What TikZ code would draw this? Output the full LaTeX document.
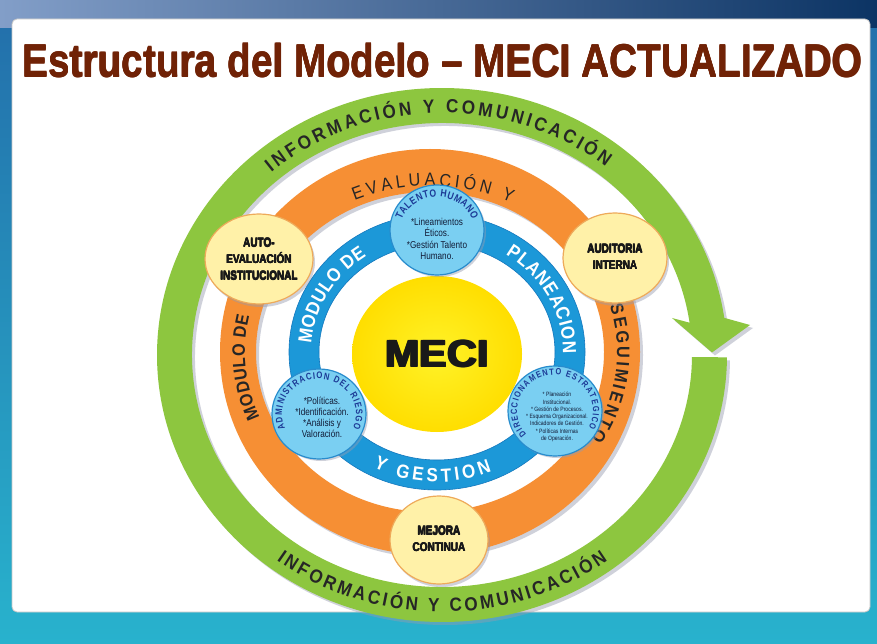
\documentclass[tikz,border=0pt]{standalone}
\usepackage{fontspec}
\setmainfont{Liberation Sans}
\newfontfamily\ringf[FakeStretch=0.9]{Liberation Sans}
\newfontfamily\condf[FakeStretch=0.82]{Liberation Sans}
\newfontfamily\heavyf[FakeStretch=0.8]{Liberation Sans Bold}
\usetikzlibrary{decorations.text}
\newcommand\fbx[2]{\leavevmode\rlap{\kern#1 #2}\rlap{\raisebox{#1}{#2}}\rlap{\kern#1\raisebox{#1}{#2}}#2\kern#1}
\definecolor{greenR}{RGB}{141,198,63}
\definecolor{orangeR}{RGB}{246,143,52}
\definecolor{blueR}{RGB}{28,152,216}
\definecolor{blueRd}{RGB}{20,120,190}
\definecolor{bluecirc}{RGB}{122,207,242}
\definecolor{bluecircd}{RGB}{40,140,205}
\definecolor{cream}{RGB}{255,241,168}
\definecolor{creamd}{RGB}{238,170,90}
\definecolor{meciY}{RGB}{255,222,0}
\definecolor{meciYin}{RGB}{255,242,40}
\definecolor{titleC}{RGB}{112,34,6}
\definecolor{ringtxt}{RGB}{38,38,38}
\definecolor{circtitle}{RGB}{28,58,150}
\definecolor{bodyC}{RGB}{18,28,55}
\definecolor{shadowC}{RGB}{150,155,175}
\definecolor{topL}{RGB}{130,158,200}
\definecolor{topR}{RGB}{12,52,100}
\definecolor{bgTop}{RGB}{35,110,170}
\definecolor{bgBot}{RGB}{40,178,205}
\tikzset{
  shadowfill/.style={fill=shadowC, opacity=0.45},
  bluecircle/.style={fill=bluecirc, draw=bluecircd, line width=1.2},
  yellowcircle/.style={fill=cream, draw=creamd, line width=1.2},
  ylbl/.style={font=\heavyf\fontsize{12.5}{16.5}\selectfont, align=center, text=black!90, inner sep=0},
  bodytxt/.style={font=\condf\fontsize{10}{11}\selectfont, align=center, text=bodyC, inner sep=0},
  smalltxt/.style={font=\condf\fontsize{6.2}{7.3}\selectfont, align=center, text=bodyC, inner sep=0},
}
\begin{document}
\begin{tikzpicture}[x=1pt,y=1pt]
\useasboundingbox (0,0) rectangle (877,643);
% background
\shade[top color=bgTop, bottom color=bgBot] (0,0) rectangle (877,643);
\shade[left color=topL, right color=topR] (0,615) rectangle (877,643);
\filldraw[white, draw=gray!45, line width=0.8, rounded corners=5] (12,31) rectangle (870,624);
% title
\node[anchor=south west, inner sep=0, text=titleC] (title) at (22,565)
  {\resizebox{840pt}{34pt}{\bfseries\fbx{0.12pt}{Estructura del Modelo – MECI ACTUALIZADO}}};

% green ring with arrow
\begin{scope}[shift={(445,285)}]
\fill[shadowfill] (-0.5:285 and 267) arc[start angle=-0.5, end angle=-352, x radius=285, y radius=267]
  -- (308,30) -- (270,2.5) -- (230,37) -- (-352:250 and 232)
  arc[start angle=-352, end angle=-0.5, x radius=250, y radius=232] -- cycle;
\end{scope}
\begin{scope}[shift={(442,288)}]
\fill[greenR] (-0.5:285 and 267) arc[start angle=-0.5, end angle=-352, x radius=285, y radius=267]
  -- (308,30) -- (270,2.5) -- (230,37) -- (-352:250 and 232)
  arc[start angle=-352, end angle=-0.5, x radius=250, y radius=232] -- cycle;
\path[decorate, decoration={text along path, text align={fit to path}, text color=ringtxt,
  text={|\ringf\bfseries\fontsize{19}{19}\selectfont|INFORMACIÓN Y COMUNICACIÓN}}]
  (131:260 and 242) arc[start angle=131, end angle=51, x radius=260, y radius=242];
\path[decorate, decoration={text along path, text align={fit to path}, text color=ringtxt,
  text={|\ringf\bfseries\fontsize{19}{19}\selectfont|INFORMACIÓN Y COMUNICACIÓN}}]
  (233:275 and 257) arc[start angle=233, end angle=307, x radius=275, y radius=257];
\end{scope}

% orange ring
\fill[shadowfill, even odd rule] (433,288) ellipse[x radius=210, y radius=203] (433,288) ellipse[x radius=174, y radius=160];
\begin{scope}[shift={(430,291)}]
\fill[orangeR, even odd rule] (0,0) ellipse[x radius=210, y radius=203] (0,0) ellipse[x radius=174, y radius=160];
\path[decorate, decoration={text along path, text align={fit to path}, text color=ringtxt,
  text={|\ringf\fontsize{18}{18}\selectfont|EVALUACIÓN Y}}]
  (114:185 and 166) arc[start angle=114, end angle=64, x radius=185, y radius=166];
\path[decorate, decoration={text along path, text align={fit to path}, text color=ringtxt,
  text={|\ringf\bfseries\fontsize{18}{18}\selectfont|MODULO DE}}]
  (203:185 and 168) arc[start angle=203, end angle=167.5, x radius=185, y radius=168];
\path[decorate, decoration={text along path, text align={fit to path}, text color=ringtxt,
  text={|\ringf\bfseries\fontsize{18}{18}\selectfont|SEGUIMIENTO}}]
  (16:187 and 168) arc[start angle=16, end angle=-31, x radius=187, y radius=168];
\end{scope}

% blue ring
\begin{scope}[shift={(437,291)}]
\fill[blueR, draw=blueRd, line width=0.6, even odd rule] (0,0) ellipse[x radius=148, y radius=138] (0,0) ellipse[x radius=118, y radius=108];
\path[decorate, decoration={text along path, text align={fit to path}, text color=white,
  text={|\ringf\bfseries\fontsize{19}{19}\selectfont|MODULO DE}}]
  (176:126 and 116) arc[start angle=176, end angle=124, x radius=126, y radius=116];
\path[decorate, decoration={text along path, text align={fit to path}, text color=white,
  text={|\ringf\bfseries\fontsize{19}{19}\selectfont|PLANEACION}}]
  (57:126 and 116) arc[start angle=57, end angle=-1, x radius=126, y radius=116];
\path[decorate, decoration={text along path, text align={fit to path}, text color=white,
  text={|\ringf\bfseries\fontsize{19}{19}\selectfont|Y GESTION}}]
  (243:140 and 130) arc[start angle=243, end angle=293, x radius=140, y radius=130];
\end{scope}

% MECI centre
\shade[inner color=meciYin, outer color=meciY] (437,289) ellipse[x radius=85, y radius=78];
\node[text=black!90, inner sep=0] (meci) at (437,289)
  {\resizebox{105pt}{28pt}{\fontsize{10}{10}\selectfont\bfseries\fbx{0.4pt}{MECI}}};

% blue small circles
\fill[shadowfill] (439,411) ellipse[x radius=47, y radius=45];
\fill[shadowfill] (321,227) ellipse[x radius=47, y radius=45];
\fill[shadowfill] (557,230) ellipse[x radius=47, y radius=45];
\draw[bluecircle] (437,413) ellipse[x radius=47, y radius=45];
\draw[bluecircle] (319,229) ellipse[x radius=47, y radius=45];
\draw[bluecircle] (555,232) ellipse[x radius=47, y radius=45];

\begin{scope}[shift={(437,413)}]
\path[decorate, decoration={text along path, text align={fit to path}, text color=circtitle,
  text={|\condf\bfseries\fontsize{10.5}{10.5}\selectfont|TALENTO HUMANO}}]
  (162:37 and 33) arc[start angle=162, end angle=18, x radius=37, y radius=33];
\end{scope}
\begin{scope}[shift={(319,229)}]
\path[decorate, decoration={text along path, text align={fit to path}, text color=circtitle,
  text={|\condf\bfseries\fontsize{9.5}{9.5}\selectfont|ADMINISTRACION DEL RIESGO}}]
  (204:37 and 35) arc[start angle=204, end angle=-24, x radius=37, y radius=35];
\end{scope}
\begin{scope}[shift={(555,232)}]
\path[decorate, decoration={text along path, text align={fit to path}, text color=circtitle,
  text={|\condf\bfseries\fontsize{9}{9}\selectfont|DIRECCIONAMENTO ESTRATEGICO}}]
  (221:38 and 36) arc[start angle=221, end angle=-28, x radius=38, y radius=36];
\end{scope}

\node[bodytxt] (tbody) at (437,404) {*Lineamientos\\Éticos.\\[1pt]*Gestión Talento\\Humano.};
\node[bodytxt] (abody) at (322,226) {*Políticas.\\*Identificación.\\*Análisis y\\Valoración.};
\node[smalltxt] (dbody) at (557,226) {* Planeación\\Institucional.\\* Gestión de Procesos.\\* Esquema Organizacional.\\Indicadores de Gestión.\\* Políticas Internas\\de Operación.};

% yellow small circles
\fill[shadowfill] (261,381) ellipse[x radius=54, y radius=45];
\fill[shadowfill] (617,382) ellipse[x radius=52, y radius=45];
\fill[shadowfill] (441,100) ellipse[x radius=49, y radius=44];
\draw[yellowcircle] (259,384) ellipse[x radius=54, y radius=45];
\draw[yellowcircle] (615,385) ellipse[x radius=52, y radius=45];
\draw[yellowcircle] (439,103) ellipse[x radius=49, y radius=44];
\node[ylbl] (auto) at (259,384) {\fbx{0.45pt}{AUTO-}\\\fbx{0.45pt}{EVALUACIÓN}\\\fbx{0.45pt}{INSTITUCIONAL}};
\node[ylbl] (audit) at (615,386) {\fbx{0.45pt}{AUDITORIA}\\\fbx{0.45pt}{INTERNA}};
\node[ylbl] (mejora) at (439,104) {\fbx{0.45pt}{MEJORA}\\\fbx{0.45pt}{CONTINUA}};
\end{tikzpicture}
\end{document}
